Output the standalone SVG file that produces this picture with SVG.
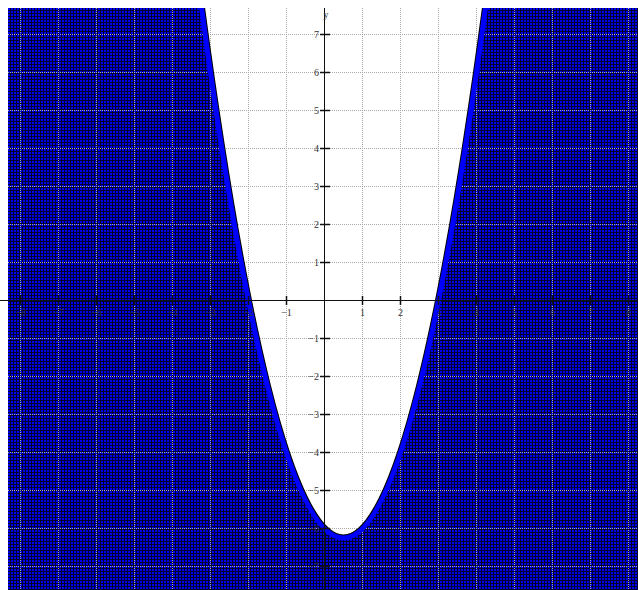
<svg xmlns="http://www.w3.org/2000/svg" width="638" height="590" viewBox="0 0 638 590">
<defs>
<style>
.grid{stroke:#a8a8a8;stroke-width:1;stroke-dasharray:1 1;fill:none}
.axis{stroke:#111;stroke-width:1;fill:none}
.tick{stroke:#111;stroke-width:1.5;fill:none}
.lbl{font-family:"Liberation Serif","Times New Roman",serif;font-size:10px;fill:#333}
.xl{text-anchor:middle}
.yl{text-anchor:end}
</style>
<pattern id="cells" patternUnits="userSpaceOnUse" x="8" y="8" width="3" height="3">
<rect width="3" height="3" fill="#00002e"/>
<rect width="2" height="2" fill="#0000ee"/>
</pattern>
<clipPath id="box"><rect x="8" y="8" width="630" height="582"/></clipPath>
<clipPath id="inside"><path d="M191.5,-70 Q343.5,1146 495.5,-70 Z"/></clipPath>
</defs>
<rect width="638" height="590" fill="#ffffff"/>
<g id="region">
<rect x="8" y="8" width="630" height="582" fill="url(#cells)"/>
<path d="M191.5,-70 Q343.5,1146 495.5,-70 Z" fill="#ffffff"/>
</g>
<g id="grid">
<path class="grid" d="M20.5,8V590M58.5,8V590M96.5,8V590M134.5,8V590M172.5,8V590M210.5,8V590M248.5,8V590M286.5,8V590M362.5,8V590M400.5,8V590M438.5,8V590M476.5,8V590M514.5,8V590M552.5,8V590M590.5,8V590M628.5,8V590"/>
<path class="grid" d="M8,34.5H638M8,72.5H638M8,110.5H638M8,148.5H638M8,186.5H638M8,224.5H638M8,262.5H638M8,338.5H638M8,376.5H638M8,414.5H638M8,452.5H638M8,490.5H638M8,528.5H638M8,566.5H638"/>
</g>
<g id="curve" clip-path="url(#box)">
<path d="M191.5,-70 Q343.5,1146 495.5,-70" fill="none" stroke="#000000" stroke-width="7" clip-path="url(#inside)"/>
<path d="M191.5,-70 Q343.5,1146 495.5,-70" fill="none" stroke="#0000ff" stroke-width="5"/>
</g>
<g id="axes">
<path class="axis" d="M0,300.5H638M324.5,8V590"/>
<path class="tick" d="M20.5,296V305M58.5,296V305M96.5,296V305M134.5,296V305M172.5,296V305M210.5,296V305M248.5,296V305M286.5,296V305M362.5,296V305M400.5,296V305M438.5,296V305M476.5,296V305M514.5,296V305M552.5,296V305M590.5,296V305M628.5,296V305"/>
<path class="tick" d="M320,34.5H330M320,72.5H330M320,110.5H330M320,148.5H330M320,186.5H330M320,224.5H330M320,262.5H330M320,338.5H330M320,376.5H330M320,414.5H330M320,452.5H330M320,490.5H330M320,528.5H330M320,566.5H330"/>
</g>
<g id="labels" class="lbl">
<text class="xl" x="20.5" y="316">−8</text>
<text class="xl" x="58.5" y="316">−7</text>
<text class="xl" x="96.5" y="316">−6</text>
<text class="xl" x="134.5" y="316">−5</text>
<text class="xl" x="172.5" y="316">−4</text>
<text class="xl" x="210.5" y="316">−3</text>
<text class="xl" x="248.5" y="316">−2</text>
<text class="xl" x="286.5" y="316">−1</text>
<text class="xl" x="362.5" y="316">1</text>
<text class="xl" x="400.5" y="316">2</text>
<text class="xl" x="438.5" y="316">3</text>
<text class="xl" x="476.5" y="316">4</text>
<text class="xl" x="514.5" y="316">5</text>
<text class="xl" x="552.5" y="316">6</text>
<text class="xl" x="590.5" y="316">7</text>
<text class="xl" x="628.5" y="316">8</text>
<text class="yl" x="319" y="38">7</text>
<text class="yl" x="319" y="76">6</text>
<text class="yl" x="319" y="114">5</text>
<text class="yl" x="319" y="152">4</text>
<text class="yl" x="319" y="190">3</text>
<text class="yl" x="319" y="228">2</text>
<text class="yl" x="319" y="266">1</text>
<text class="yl" x="319" y="342">−1</text>
<text class="yl" x="319" y="380">−2</text>
<text class="yl" x="319" y="418">−3</text>
<text class="yl" x="319" y="456">−4</text>
<text class="yl" x="319" y="494">−5</text>
<text class="yl" x="319" y="532">−6</text>
<text class="yl" x="319" y="570">−7</text>
<text class="xl" x="326" y="18">y</text>
</g>
</svg>
